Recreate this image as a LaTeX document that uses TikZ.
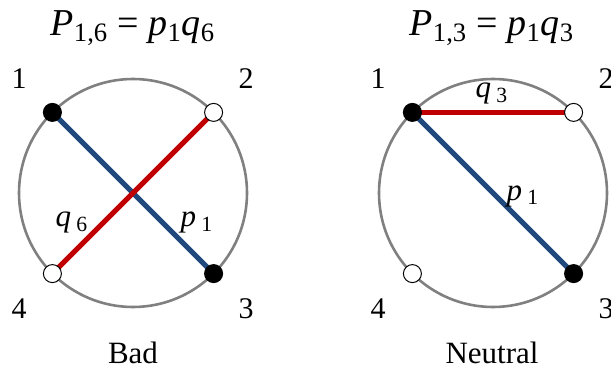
\documentclass[tikz,border=0pt]{standalone}
\usepackage{fontspec}
\setmainfont{Liberation Serif}
\usetikzlibrary{positioning}
\usetikzlibrary{backgrounds}

\definecolor{chordred}{RGB}{192,0,0}
\definecolor{chordblue}{RGB}{31,73,125}
\definecolor{ringgray}{RGB}{128,128,128}

\tikzset{
    ring/.style={draw=ringgray, line width=1.3pt},
    pchord/.style={draw=chordblue, line width=2.6pt},
    qchord/.style={draw=chordred, line width=2.6pt},
    full/.style={circle, draw=black, fill=black, line width=0.5pt, inner sep=0pt, minimum size=9pt},
    hollow/.style={circle, draw=black, fill=white, line width=0.5pt, inner sep=0pt, minimum size=9pt},
    title/.style={anchor=base, inner sep=0pt, font=\fontsize{19}{22}\selectfont},
    num/.style={anchor=base, inner sep=0pt, font=\fontsize{15}{18}\selectfont},
    lbl/.style={anchor=base, inner sep=0pt, font=\fontsize{15.5}{18}\selectfont},
    verdict/.style={anchor=base, inner sep=0pt, font=\fontsize{15.5}{18}\selectfont}
}

\begin{document}
\begin{tikzpicture}[x=0.5pt, y=-0.5pt]
        \def\r{114} % radius of the ring
        \def\d{80.6} % dot offset from the centre
        \useasboundingbox (0,0) rectangle (611,369);
        % left: crossing chords
        \begin{scope}[shift={(133,193)}]
            \coordinate (lc) at (0,0);
            \node[full] (l1) at (-\d,-\d) {};
            \node[hollow] (l2) at (\d,-\d) {};
            \node[full] (l3) at (\d,\d) {};
            \node[hollow] (l4) at (-\d,\d) {};
            \begin{scope}[on background layer]
                \draw[ring] (lc) circle (\r);
                \draw[pchord] (l1.center) -- (l3.center);
                \draw[qchord] (l4.center) -- (l2.center);
            \end{scope}
            \node[title] (ltitle) at (0,-157) {\textit{P}\textsubscript{1,6} = \textit{p}\textsubscript{1}\textit{q}\textsubscript{6}};
            \node[num] (ln1) at (-114,-104) {1};
            \node[num] (ln2) at (113,-104) {2};
            \node[num] (ln3) at (113,125) {3};
            \node[num] (ln4) at (-114,125) {4};
            \node[lbl] (lq) at (-61,34) {\textit{q}\,\textsubscript{6}};
            \node[lbl] (lp) at (64,34) {\textit{p}\,\textsubscript{1}};
            \node[verdict] (lverdict) at (0,170) {Bad};
        \end{scope}
        % right: chords sharing dot 1
        \begin{scope}[shift={(493,193)}]
            \coordinate (rc) at (0,0);
            \node[full] (r1) at (-\d,-\d) {};
            \node[hollow] (r2) at (\d,-\d) {};
            \node[full] (r3) at (\d,\d) {};
            \node[hollow] (r4) at (-\d,\d) {};
            \begin{scope}[on background layer]
                \draw[ring] (rc) circle (\r);
                \draw[pchord] (r1.center) -- (r3.center);
                \draw[qchord] (r1.center) -- (r2.center);
            \end{scope}
            \node[title] (rtitle) at (-1,-157) {\textit{P}\textsubscript{1,3} = \textit{p}\textsubscript{1}\textit{q}\textsubscript{3}};
            \node[num] (rn1) at (-115,-104) {1};
            \node[num] (rn2) at (113,-104) {2};
            \node[num] (rn3) at (113,125) {3};
            \node[num] (rn4) at (-115,125) {4};
            \node[lbl] (rq) at (-1,-95) {\textit{q}\,\textsubscript{3}};
            \node[lbl] (rp) at (30,7) {\textit{p}\,\textsubscript{1}};
            \node[verdict] (rverdict) at (-1,170) {Neutral};
        \end{scope}
    \end{tikzpicture}
\end{document}
